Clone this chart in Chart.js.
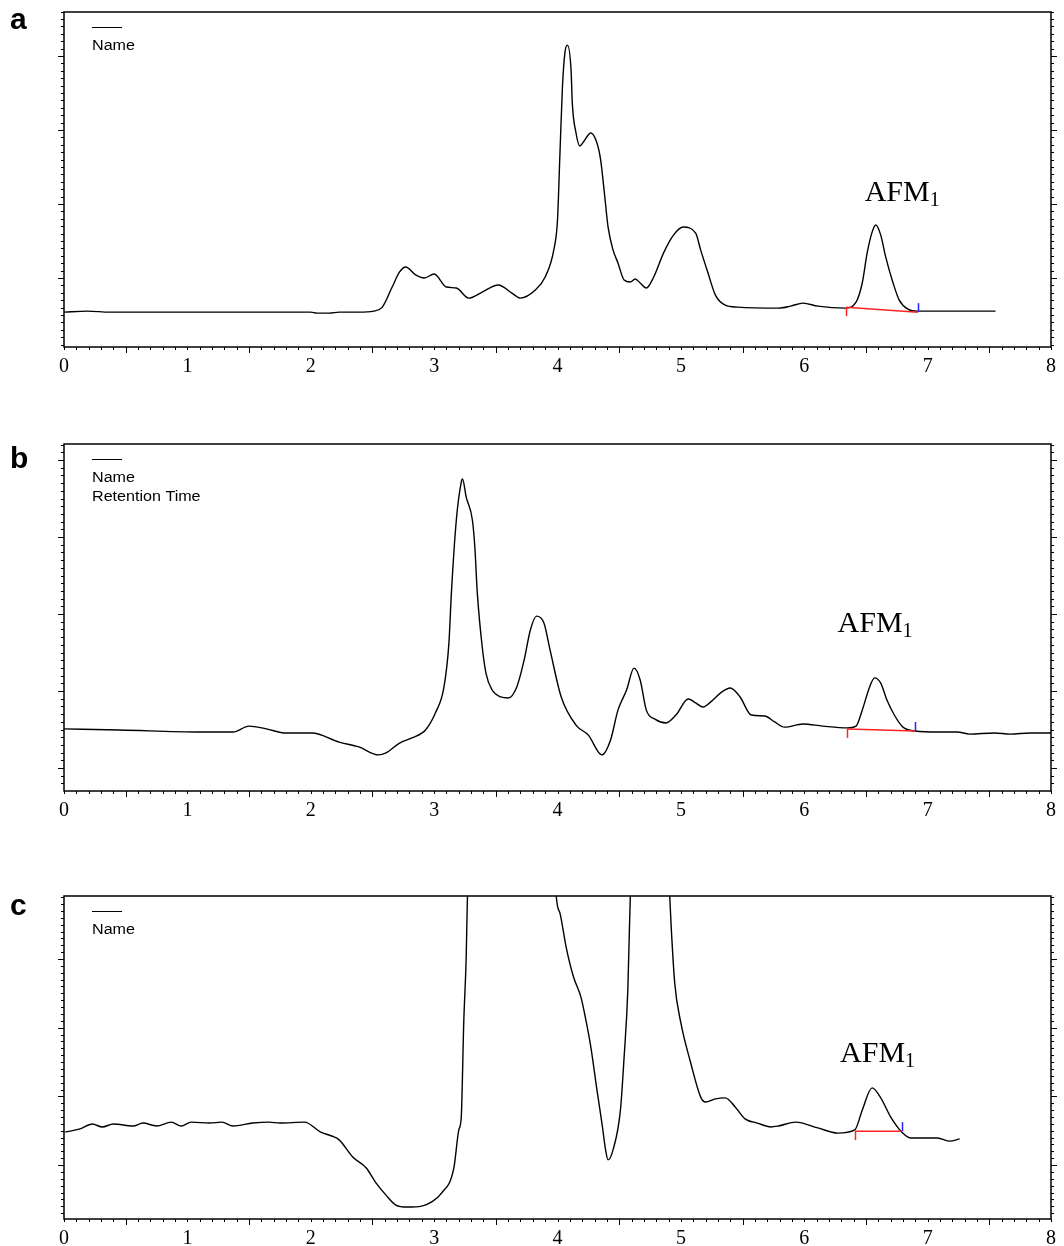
<!DOCTYPE html>
<html>
<head>
<meta charset="utf-8">
<script src="https://cdn.jsdelivr.net/npm/chart.js@4.4.0/dist/chart.umd.min.js"></script>
<style>
  html, body { margin: 0; padding: 0; background: #fff; }
  #wrap { position: relative; width: 1064px; height: 1246px; }
  canvas { position: absolute; left: 0; }
</style>
</head>
<body>
<div id="wrap">
  <canvas id="chartA"></canvas>
  <canvas id="chartB"></canvas>
  <canvas id="chartC"></canvas>
</div>
<script>
// Retention time axis (min) and tick labels
const xTickLabels = ['0', '1', '2', '3', '4', '5', '6', '7', '8'];

// Panel a - signal in % of full scale
const timeA = [0, 0.19, 0.37, 1.10, 2.00, 2.05, 2.15, 2.23, 2.39, 2.51, 2.58, 2.66, 2.72, 2.77, 2.85, 2.92, 3.00, 3.10, 3.18, 3.28,
  3.39, 3.52, 3.63, 3.70, 3.82, 3.90, 3.97, 4.00, 4.02, 4.04, 4.06, 4.08, 4.11, 4.12, 4.15, 4.18, 4.21, 4.27, 4.32, 4.35,
  4.38, 4.41, 4.45, 4.49, 4.54, 4.59, 4.63, 4.67, 4.72, 4.78, 4.86, 4.94, 5.02, 5.12, 5.16, 5.22, 5.28, 5.36, 5.46, 5.79,
  5.89, 5.99, 6.11, 6.33, 6.42, 6.47, 6.51, 6.55, 6.58, 6.62, 6.66, 6.72, 6.77, 6.84, 6.92, 7.55];
const signalA = [10.4, 10.7, 10.4, 10.4, 10.4, 10.1, 10.1, 10.4, 10.4, 10.7, 11.9, 17.9, 22.4, 23.9, 21.5, 20.6, 21.8, 17.9, 17.6, 14.6,
  16.4, 18.5, 16.1, 14.6, 17.0, 20.9, 29.0, 37.9, 57.9, 77.6, 87.8, 90.1, 82.7, 72.8, 63.9, 60.0, 61.2, 63.9, 60.9, 55.8,
  46.0, 35.8, 29.0, 25.1, 20.0, 19.4, 20.3, 19.1, 17.6, 20.9, 28.1, 33.4, 35.8, 34.0, 29.0, 22.1, 15.5, 12.5, 11.9, 11.6,
  12.2, 13.1, 12.2, 11.6, 13.4, 19.1, 28.1, 34.3, 36.4, 33.4, 26.9, 19.1, 14.0, 11.3, 10.7, 10.7];
const baseTimeA = [6.34, 6.92];
const baseSignalA = [11.9, 10.4];

// Panel b
const timeB = [0, 0.45, 1.10, 1.37, 1.50, 1.64, 1.80, 2.01, 2.23, 2.39, 2.55, 2.61, 2.72, 2.82, 2.93, 3.01, 3.08, 3.12, 3.14, 3.18,
  3.22, 3.23, 3.26, 3.31, 3.33, 3.35, 3.39, 3.42, 3.47, 3.54, 3.60, 3.67, 3.73, 3.78, 3.83, 3.89, 3.94, 4.03, 4.15, 4.25,
  4.36, 4.43, 4.49, 4.56, 4.62, 4.67, 4.72, 4.79, 4.88, 4.96, 5.06, 5.12, 5.18, 5.24, 5.33, 5.40, 5.48, 5.57, 5.68, 5.76,
  5.84, 5.99, 6.15, 6.35, 6.42, 6.47, 6.53, 6.57, 6.62, 6.67, 6.73, 6.80, 6.90, 7.08, 7.24, 7.34, 7.54, 7.67, 7.83, 8.00];
const signalB = [17.9, 17.6, 17.0, 17.0, 18.7, 17.9, 16.7, 16.7, 14.1, 12.7, 10.4, 11.0, 13.8, 15.3, 17.6, 22.5, 30.0, 42.7, 57.1, 78.1,
  89.0, 89.9, 84.7, 78.1, 70.3, 57.1, 41.5, 34.0, 29.1, 27.1, 26.8, 30.0, 37.8, 46.4, 50.4, 48.4, 40.6, 27.1, 19.0, 16.1,
  10.4, 14.7, 23.3, 29.1, 35.4, 32.0, 23.3, 20.7, 19.6, 21.9, 26.5, 25.4, 24.2, 25.6, 28.5, 29.7, 27.1, 21.9, 21.6, 19.9,
  18.4, 19.3, 18.7, 18.2, 18.7, 23.3, 30.0, 32.6, 31.1, 26.2, 21.9, 18.4, 17.3, 17.0, 17.0, 16.4, 16.7, 16.4, 16.7, 16.7];
const baseTimeB = [6.35, 6.90];
const baseSignalB = [17.9, 17.3];

// Panel c (off-scale peaks run above 100)
const timeC = [0.01, 0.13, 0.23, 0.31, 0.40, 0.56, 0.64, 0.75, 0.87, 0.95, 1.03, 1.18, 1.28, 1.37, 1.53, 1.66, 1.75, 1.95, 2.08, 2.17,
  2.23, 2.34, 2.45, 2.53, 2.61, 2.69, 2.78, 2.90, 2.98, 3.06, 3.16, 3.20, 3.22, 3.24, 3.26, 3.27, 3.29, 3.64, 3.98, 3.99,
  4.02, 4.07, 4.13, 4.19, 4.23, 4.27, 4.32, 4.36, 4.39, 4.41, 4.45, 4.51, 4.54, 4.57, 4.59, 4.61, 4.74, 4.89, 4.91, 4.92,
  4.95, 5.00, 5.08, 5.16, 5.20, 5.28, 5.36, 5.44, 5.52, 5.62, 5.73, 5.79, 5.93, 6.11, 6.27, 6.41, 6.47, 6.55, 6.62, 6.70,
  6.79, 6.86, 6.97, 7.08, 7.18, 7.26];
const signalC = [26.9, 27.9, 29.4, 28.5, 29.4, 28.8, 29.7, 28.8, 30.0, 28.8, 30.0, 29.7, 30.0, 28.8, 29.7, 30.0, 29.7, 30.0, 26.9, 25.7,
  24.5, 19.2, 15.8, 11.1, 7.4, 4.3, 3.7, 4.0, 5.3, 8.0, 15.8, 27.6, 31.6, 60.7, 81.1, 99.7, 111, 200, 111, 100,
  94.7, 84.2, 74.9, 68.7, 61.6, 53.3, 39.9, 29.7, 21.4, 18.3, 21.4, 33.7, 50.2, 70.9, 99.7, 111, 200, 111, 99.7, 91.6,
  73.1, 60.7, 48.3, 37.8, 36.2, 37.2, 37.5, 34.7, 31.0, 29.7, 28.5, 28.8, 30.0, 28.2, 26.6, 27.6, 33.7, 40.6, 37.5, 31.6,
  26.9, 25.1, 25.1, 25.1, 24.1, 24.8];
const baseTimeC = [6.41, 6.79];
const baseSignalC = [27.2, 27.2];

const legendA = ['Name'];
const legendB = ['Name', 'Retention Time'];
const legendC = ['Name'];
const peakName = 'AFM';
const peakSub = '1';

// Frame, ticks, legend and labels
const decorPlugin = {
  id: 'decor',
  afterDraw(chart) {
    const o = chart.options.plugins.decor;
    const ctx = chart.ctx;
    const ca = chart.chartArea;
    const xs = chart.scales.x, ys = chart.scales.y;
    ctx.save();
    ctx.strokeStyle = '#000';
    ctx.lineWidth = 1.5;
    ctx.strokeRect(ca.left, ca.top, ca.right - ca.left, ca.bottom - ca.top);

    // left / right ticks
    ctx.lineWidth = 1;
    ctx.beginPath();
    const minor = o.majorGap / 10;
    for (let i = -60; i <= 60; i++) {
      const py = Math.round(ca.top + o.phase + i * minor) + 0.5;
      if (py < ca.top || py > ca.bottom) continue;
      const len = (i % 10 === 0) ? 6 : 3;
      ctx.moveTo(ca.left - len, py); ctx.lineTo(ca.left, py);
      ctx.moveTo(ca.right, py); ctx.lineTo(ca.right + len, py);
    }
    // bottom ticks
    for (let k = 0; k <= 80; k++) {
      const px = Math.round(xs.getPixelForValue(k / 10)) + 0.5;
      const len = (k % 5 === 0 && k % 10 !== 0) ? 6 : 3;
      ctx.moveTo(px, ca.bottom); ctx.lineTo(px, ca.bottom + len);
    }
    ctx.stroke();

    // legend
    ctx.beginPath();
    ctx.moveTo(92, ca.top + 15.5); ctx.lineTo(122, ca.top + 15.5);
    ctx.stroke();
    ctx.fillStyle = '#000';
    ctx.font = '14px "Liberation Sans", Arial, sans-serif';
    ctx.textBaseline = 'middle';
    o.legend.forEach((s, i) => {
      ctx.save();
      ctx.translate(92, ca.top + 34 + i * 19);
      ctx.scale(1.15, 1);
      ctx.fillText(s, 0, 0);
      ctx.restore();
    });

    // panel letter
    ctx.font = 'bold 30px "Liberation Sans", Arial, sans-serif';
    ctx.textBaseline = 'alphabetic';
    ctx.fillText(o.letter, 10, o.letterY);

    // peak label
    const lx = xs.getPixelForValue(o.labelT);
    const ly = ys.getPixelForValue(o.labelY);
    ctx.font = '30px "Liberation Serif", "Times New Roman", serif';
    ctx.fillText(peakName, lx, ly);
    const w = ctx.measureText(peakName).width;
    ctx.font = '20px "Liberation Serif", "Times New Roman", serif';
    ctx.fillText(peakSub, lx + w, ly + 5);

    // integration start / end markers
    const sx = Math.round(xs.getPixelForValue(o.baseT[0])) + 0.5;
    const sy = ys.getPixelForValue(o.baseY[0]);
    const ex = Math.round(xs.getPixelForValue(o.baseT[1])) + 0.5;
    const ey = ys.getPixelForValue(o.baseY[1]);
    ctx.lineWidth = 1.5;
    ctx.strokeStyle = '#f22';
    ctx.beginPath(); ctx.moveTo(sx, sy); ctx.lineTo(sx, sy + 9); ctx.stroke();
    ctx.strokeStyle = '#22f';
    ctx.beginPath(); ctx.moveTo(ex, ey); ctx.lineTo(ex, ey - 9); ctx.stroke();
    ctx.restore();
  }
};

function makePanel(id, top, height, areaTop, areaBottom, times, signal, baseT, baseY, decor) {
  const cv = document.getElementById(id);
  cv.width = 1064;
  cv.height = height;
  cv.style.top = top + 'px';
  const xAxisH = 30;
  new Chart(cv, {
    type: 'line',
    data: {
      datasets: [
        {
          data: baseT.map((t, i) => ({ x: t, y: baseY[i] })),
          borderColor: '#f22', borderWidth: 1.5, pointRadius: 0
        },
        {
          data: times.map((t, i) => ({ x: t, y: signal[i] })),
          borderColor: '#000', borderWidth: 1.4, pointRadius: 0,
          cubicInterpolationMode: 'monotone'
        }
      ]
    },
    options: {
      responsive: false,
      animation: false,
      layout: { padding: { left: 64, right: 10, top: areaTop, bottom: height - areaBottom - xAxisH } },
      scales: {
        x: {
          type: 'linear', min: 0, max: 8,
          grid: { display: false, drawTicks: false },
          border: { display: false },
          ticks: {
            stepSize: 1, padding: 8, color: '#000', maxRotation: 0,
            font: { family: '"Liberation Serif", "Times New Roman", serif', size: 20 },
            callback: v => xTickLabels[v]
          },
          afterFit: s => { s.height = xAxisH; }
        },
        y: { display: false, min: 0, max: 100 }
      },
      plugins: {
        legend: { display: false },
        tooltip: { enabled: false },
        decor: Object.assign({ baseT: baseT, baseY: baseY }, decor)
      }
    },
    plugins: [decorPlugin]
  });
}

makePanel('chartA', 0, 400, 12, 347, timeA, signalA, baseTimeA, baseSignalA,
  { legend: legendA, letter: 'a', letterY: 29, phase: 44, majorGap: 74, labelT: 6.49, labelY: 43.6 });
makePanel('chartB', 420, 410, 24, 371, timeB, signalB, baseTimeB, baseSignalB,
  { legend: legendB, letter: 'b', letterY: 48, phase: 16, majorGap: 77, labelT: 6.27, labelY: 45.8 });
makePanel('chartC', 860, 386, 36, 359, timeC, signalC, baseTimeC, baseSignalC,
  { legend: legendC, letter: 'c', letterY: 55, phase: 63, majorGap: 68.7, labelT: 6.29, labelY: 48.6 });
</script>
</body>
</html>
